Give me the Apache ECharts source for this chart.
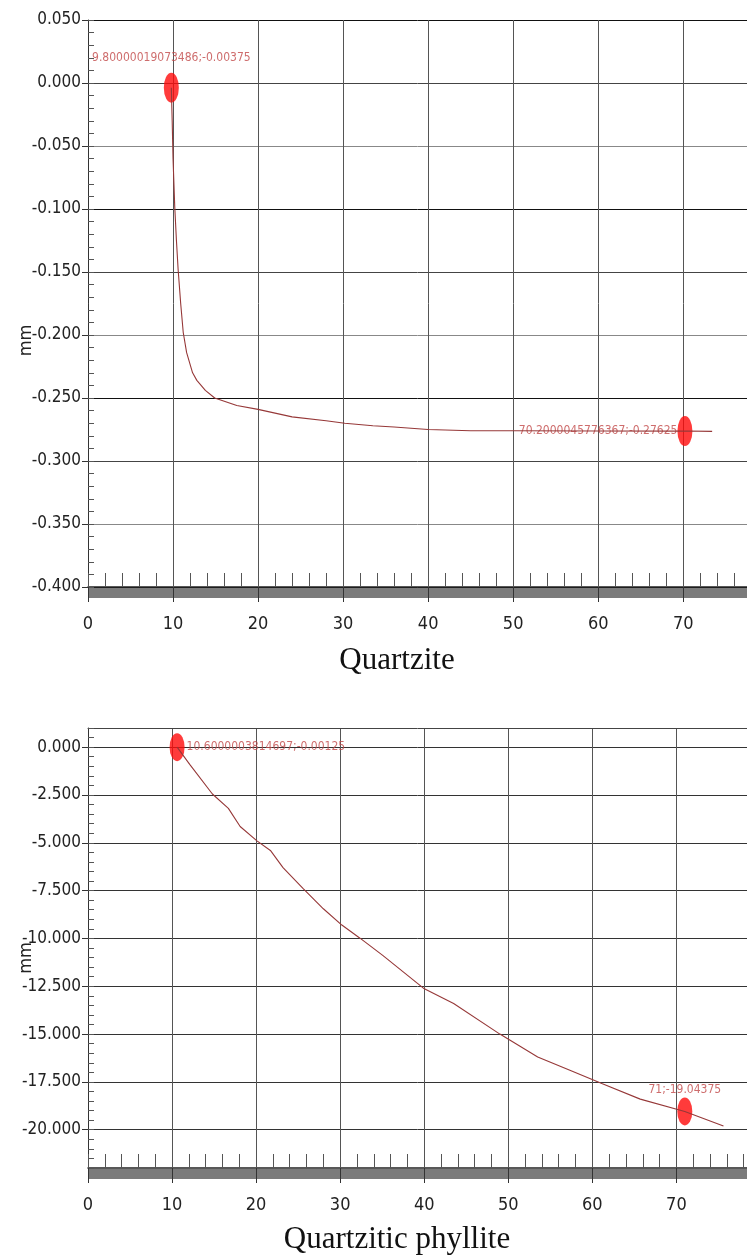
<!DOCTYPE html>
<html lang="en">
<head>
<meta charset="utf-8">
<title>Quartzite / Quartzitic phyllite</title>
<script src="https://cdn.jsdelivr.net/npm/echarts@6.0.0/dist/echarts.min.js"></script>
<style>
  html, body { margin: 0; padding: 0; background: #fff; }
  #chart { width: 747px; height: 1257px; }
</style>
</head>
<body>
<div id="chart"></div>
<script>
// --- Quartzite curve (x, mm) ---
const quartziteX = [9.80000019073486, 9.9, 10.0, 10.2, 10.4, 10.6, 10.9, 11.2, 11.6, 12.3, 12.8, 13.8, 14.9, 17.5, 20, 24, 28, 30.2, 33.5, 36, 40, 45, 50, 60, 70.2000045776367, 73.4];
const quartziteY = [-0.00375, -0.03, -0.06, -0.098, -0.125, -0.148, -0.175, -0.198, -0.214, -0.230, -0.236, -0.244, -0.250, -0.256, -0.259, -0.265, -0.268, -0.270, -0.272, -0.273, -0.275, -0.276, -0.276, -0.2762, -0.27625, -0.2765];
const quartzitePoints = [[9.80000019073486, -0.00375], [70.2000045776367, -0.27625]];

// --- Quartzitic phyllite curve (x, mm) ---
const phylliteX = [10.6000003814697, 12.1, 14.8, 16.7, 18.1, 20.1, 21.7, 23.2, 25.6, 28, 30.2, 32.4, 35.1, 37.5, 39.9, 43.5, 49, 53.5, 57.4, 61.2, 65.7, 71, 75.6];
const phylliteY = [-0.00125, -0.9, -2.45, -3.2, -4.15, -4.9, -5.4, -6.3, -7.4, -8.45, -9.3, -10.0, -10.9, -11.75, -12.6, -13.4, -15.0, -16.2, -16.9, -17.6, -18.4, -19.04375, -19.8];
const phyllitePoints = [[10.6000003814697, -0.00125], [71, -19.04375]];

// axis ranges and ticks
const topXRange = [0, 77.5];
const topYRange = [-0.4, 0.05];
const botXRange = [0, 78.4];
const botYRange = [-22, 1];
const botYTicks = [0, -2.5, -5, -7.5, -10, -12.5, -15, -17.5, -20];

const narrow = "'Liberation Sans Narrow', 'Arial Narrow', 'DejaVu Sans Condensed', 'Liberation Sans', sans-serif";
const chart = echarts.init(document.getElementById('chart'));

function zip(xs, ys) { return xs.map((x, i) => [x, ys[i]]); }

function xAxesFor(gridIndex, range, gridColor) {
    const base = { type: 'value', gridIndex: gridIndex, position: 'bottom', min: range[0], max: range[1] };
    return [
        // grey band under the x axis
        Object.assign({}, base, {
            offset: 6,
            axisLine: { onZero: false, lineStyle: { color: '#7b7b7b', width: 10, cap: 'butt' } },
            axisTick: { show: false }, axisLabel: { show: false }, splitLine: { show: false }
        }),
        // small inner ticks
        Object.assign({}, base, {
            interval: 2,
            axisLine: { show: false, onZero: false },
            axisTick: { inside: true, length: 14, lineStyle: { color: '#555' } },
            axisLabel: { show: false }, splitLine: { show: false }
        }),
        // main axis
        Object.assign({}, base, {
            interval: 10,
            axisLine: { onZero: false, lineStyle: { color: '#222', width: 1.5 } },
            axisTick: { length: 15, lineStyle: { color: '#333' } },
            axisLabel: { margin: 28, fontSize: 18, color: '#222', fontFamily: narrow, showMaxLabel: false },
            splitLine: { lineStyle: { color: gridColor } }
        })
    ];
}

function minorY(gridIndex, range, step) {
    return {
        type: 'value', gridIndex: gridIndex, position: 'left', min: range[0], max: range[1], interval: step,
        axisLine: { show: false, onZero: false },
        axisTick: { inside: true, length: 6, lineStyle: { color: '#555' } },
        axisLabel: { show: false }, splitLine: { show: false }
    };
}

const yLabel = { margin: 7, fontSize: 17, color: '#222', fontFamily: narrow, formatter: v => v.toFixed(3) };

function yName(shift) {
    return { fontSize: 18, color: '#222', fontFamily: narrow, padding: [0, shift, 0, 0] };
}

function pointLabel(pos, dist) {
    return {
        show: true, position: pos, distance: dist,
        formatter: p => p.value[0] + ';' + p.value[1],
        color: '#c24848', fontSize: 12, fontFamily: narrow
    };
}

const lineStyle = { color: '#963838', width: 1.1 };

chart.setOption({
    animation: false,
    backgroundColor: '#fff',
    grid: [
        { left: 88, right: 0, top: 20, height: 567, outerBoundsMode: 'none' },
        { left: 88, right: 0, top: 728, height: 440, outerBoundsMode: 'none' }
    ],
    xAxis: [].concat(
        xAxesFor(0, topXRange, '#555'),
        xAxesFor(1, botXRange, '#555'),
        [{
            type: 'value', gridIndex: 1, position: 'top', min: botXRange[0], max: botXRange[1],
            axisLine: { onZero: false, lineStyle: { color: '#444' } },
            axisTick: { show: false }, axisLabel: { show: false }, splitLine: { show: false }
        }]
    ),
    yAxis: [
        minorY(0, topYRange, 0.01),
        {
            type: 'value', gridIndex: 0, position: 'left', min: topYRange[0], max: topYRange[1], interval: 0.05,
            name: 'mm', nameLocation: 'middle', nameGap: 53, nameMoveOverlap: false, nameTextStyle: yName(74),
            axisLine: { show: true, onZero: false, lineStyle: { color: '#333' } },
            axisTick: { show: true, length: 6, lineStyle: { color: '#333' } },
            axisLabel: yLabel,
            splitLine: { lineStyle: { color: ['#111', '#888', '#444'] } }
        },
        minorY(1, botYRange, 0.5),
        {
            type: 'value', gridIndex: 1, position: 'left', min: botYRange[0], max: botYRange[1],
            name: 'mm', nameLocation: 'middle', nameGap: 53, nameMoveOverlap: false, nameTextStyle: yName(20),
            axisLine: { show: true, onZero: false, lineStyle: { color: '#333' } },
            axisTick: { show: true, length: 6, customValues: botYTicks, lineStyle: { color: '#333' } },
            axisLabel: Object.assign({ customValues: botYTicks }, yLabel),
            splitLine: { lineStyle: { color: '#333' } }
        }
    ],
    graphic: [
        { type: 'text', x: 397, y: 661, style: { text: 'Quartzite', font: '31px "Liberation Serif", serif', fill: '#111', textAlign: 'center', textVerticalAlign: 'middle' } },
        { type: 'text', x: 397, y: 1240, style: { text: 'Quartzitic phyllite', font: '31px "Liberation Serif", serif', fill: '#111', textAlign: 'center', textVerticalAlign: 'middle' } }
    ],
    series: [
        {
            type: 'line', xAxisIndex: 2, yAxisIndex: 1, data: zip(quartziteX, quartziteY),
            showSymbol: false, lineStyle: lineStyle, silent: true
        },
        {
            type: 'scatter', xAxisIndex: 2, yAxisIndex: 1, symbol: 'circle', symbolSize: [15, 30],
            itemStyle: { color: '#ff0a0a' },
            data: [
                { value: quartzitePoints[0], label: pointLabel('top', 9) },
                { value: quartzitePoints[1], label: pointLabel('left', 0) }
            ]
        },
        {
            type: 'line', xAxisIndex: 5, yAxisIndex: 3, data: zip(phylliteX, phylliteY),
            showSymbol: false, lineStyle: lineStyle, silent: true
        },
        {
            type: 'scatter', xAxisIndex: 5, yAxisIndex: 3, symbol: 'circle', symbolSize: [15, 28],
            itemStyle: { color: '#ff0a0a' },
            data: [
                { value: phyllitePoints[0], label: pointLabel('right', 2) },
                { value: phyllitePoints[1], label: pointLabel('top', 2) }
            ]
        }
    ]
});

window.addEventListener('resize', function() {
    chart.resize();
});
</script>
</body>
</html>
